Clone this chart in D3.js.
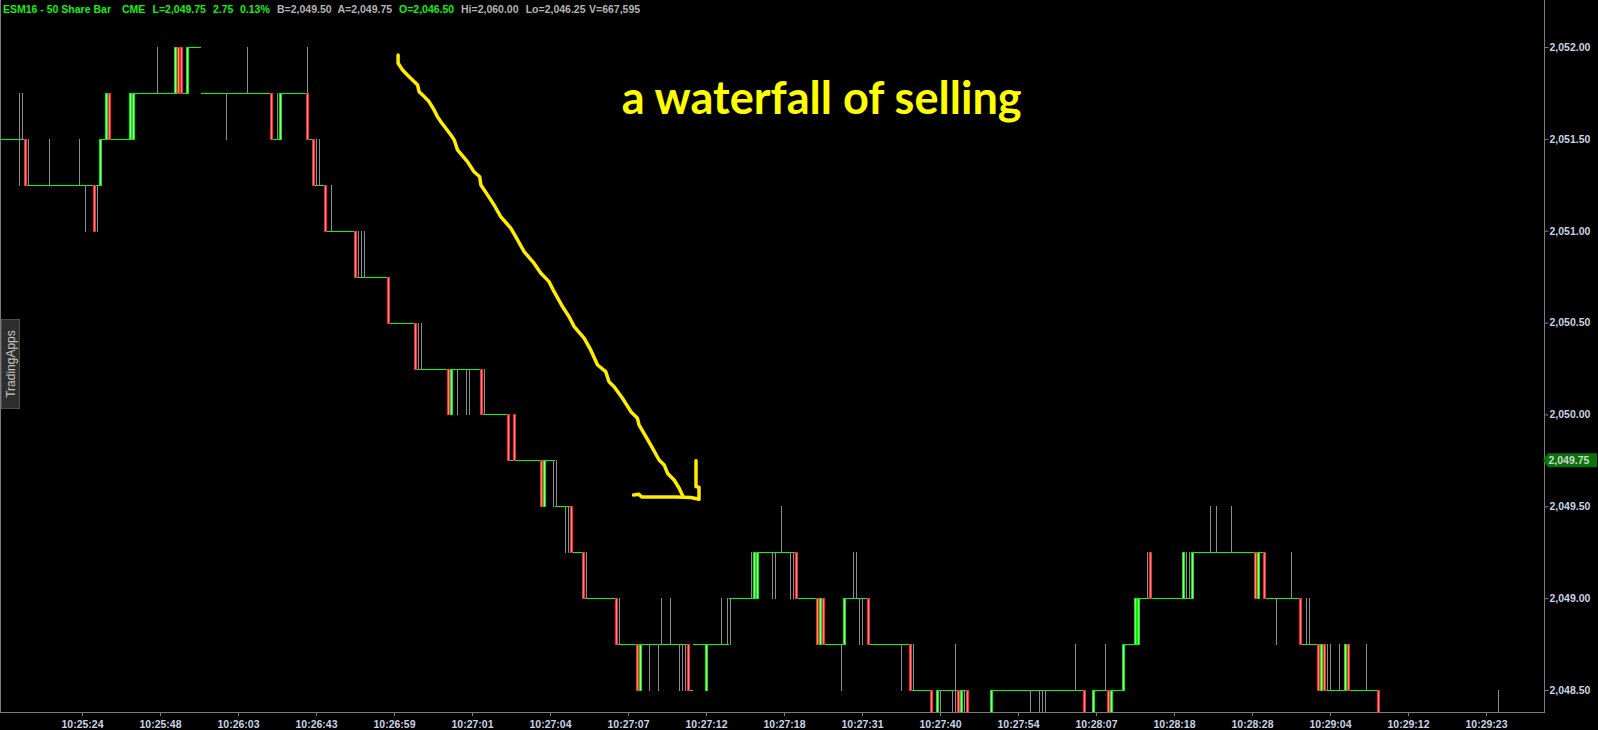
<!DOCTYPE html>
<html>
<head>
<meta charset="utf-8">
<title>ESM16 - 50 Share Bar</title>
<script src="https://d3js.org/d3.v7.min.js"></script>
<style>
  html, body { margin: 0; padding: 0; background: #000; overflow: hidden; }
  svg { display: block; }
</style>
</head>
<body>
<div id="chart"></div>
<script>
/* global d3 */

// 50 share bars, left to right: [open, high, low, close, repeat]
// a two item row [price, repeat] is a run of bars that only traded one price
const bars = [
  [2051.5, 6],
  [2051.5, 2051.75, 2051.25, 2051.5],
  [2051.5, 2051.75, 2051.5, 2051.5],
  [2051.5, 2051.5, 2051.25, 2051.25],
  [2051.25, 2051.5, 2051.25, 2051.25],
  [2051.25, 6],
  [2051.25, 2051.5, 2051.25, 2051.25],
  [2051.25, 9],
  [2051.25, 2051.5, 2051.25, 2051.25],
  [2051.25, 1],
  [2051.25, 2051.25, 2051, 2051.25],
  [2051.25, 2],
  [2051.25, 2051.25, 2051, 2051],
  [2051.25, 2051.25, 2051, 2051.25],
  [2051.25, 2051.5, 2051.25, 2051.5],
  [2051.5, 1],
  [2051.5, 2051.75, 2051.5, 2051.75],
  [2051.75, 2051.75, 2051.5, 2051.5],
  [2051.5, 6],
  [2051.5, 2051.75, 2051.5, 2051.75, 2],
  [2051.75, 7],
  [2051.75, 2052, 2051.75, 2051.75],
  [2051.75, 5],
  [2051.75, 2052, 2051.75, 2052],
  [2052, 2052, 2051.75, 2051.75, 2],
  [2051.75, 1],
  [2051.75, 2052, 2051.75, 2052],
  [2052, 4],
  [2051.75, 8],
  [2051.75, 2051.75, 2051.5, 2051.75],
  [2051.75, 6],
  [2051.75, 2052, 2051.75, 2051.75],
  [2051.75, 7],
  [2051.75, 2051.75, 2051.5, 2051.5],
  [2051.5, 1],
  [2051.5, 2051.75, 2051.5, 2051.5],
  [2051.5, 2051.75, 2051.5, 2051.75],
  [2051.75, 8],
  [2051.75, 2052, 2051.5, 2051.5],
  [2051.5, 1],
  [2051.5, 2051.5, 2051.25, 2051.25],
  [2051.25, 2051.5, 2051.25, 2051.25, 2],
  [2051.25, 1],
  [2051.25, 2051.25, 2051, 2051],
  [2051, 1],
  [2051, 2051.25, 2051, 2051],
  [2051, 7],
  [2051, 2051, 2050.75, 2050.75],
  [2050.75, 2051, 2050.75, 2050.75, 3],
  [2050.75, 7],
  [2050.75, 2050.75, 2050.5, 2050.5],
  [2050.5, 8],
  [2050.5, 2050.5, 2050.25, 2050.25],
  [2050.25, 2050.5, 2050.25, 2050.25, 2],
  [2050.25, 8],
  [2050.25, 2050.25, 2050, 2050],
  [2050, 2050.25, 2050, 2050.25],
  [2050.25, 1],
  [2050.25, 2050.25, 2050, 2050.25],
  [2050.25, 2],
  [2050.25, 2050.25, 2050, 2050.25, 2],
  [2050.25, 3],
  [2050.25, 2050.25, 2050, 2050],
  [2050, 2050.25, 2050, 2050],
  [2050, 7],
  [2050, 2050, 2049.75, 2049.75],
  [2049.75, 1],
  [2050, 2050, 2049.75, 2049.75],
  [2049.75, 8],
  [2049.75, 2049.75, 2049.5, 2049.5],
  [2049.5, 2049.75, 2049.5, 2049.75],
  [2049.75, 2],
  [2049.75, 2049.75, 2049.5, 2049.75],
  [2049.5, 2049.75, 2049.5, 2049.5],
  [2049.5, 2],
  [2049.5, 2049.5, 2049.25, 2049.5, 2],
  [2049.5, 2049.5, 2049.25, 2049.25],
  [2049.25, 3],
  [2049.25, 2049.25, 2049, 2049],
  [2049, 2049.25, 2049, 2049],
  [2049, 9],
  [2049, 2049, 2048.75, 2048.75],
  [2048.75, 2049, 2048.75, 2048.75],
  [2048.75, 5],
  [2048.75, 2048.75, 2048.5, 2048.5],
  [2048.5, 2048.75, 2048.5, 2048.75],
  [2048.75, 2],
  [2048.75, 2048.75, 2048.5, 2048.75],
  [2048.75, 2],
  [2048.75, 2048.75, 2048.5, 2048.75],
  [2048.75, 2049, 2048.75, 2048.75],
  [2048.75, 2],
  [2048.75, 2049, 2048.75, 2048.75],
  [2048.75, 2],
  [2048.75, 2048.75, 2048.5, 2048.75, 3],
  [2048.75, 2048.75, 2048.5, 2048.5],
  [2048.5, 1],
  [2048.75, 4],
  [2048.5, 2048.75, 2048.5, 2048.75],
  [2048.75, 4],
  [2048.75, 2049, 2048.75, 2048.75],
  [2048.75, 1],
  [2048.75, 2049, 2048.75, 2048.75],
  [2049, 2049, 2048.75, 2049],
  [2049, 6],
  [2049, 2049.25, 2049, 2049],
  [2049, 2049.25, 2049, 2049.25, 2],
  [2049.25, 4],
  [2049.25, 2049.25, 2049, 2049.25, 2],
  [2049.25, 1],
  [2049.25, 2049.5, 2049.25, 2049.25],
  [2049.25, 2],
  [2049.25, 2049.25, 2049, 2049.25, 2],
  [2049.25, 2049.25, 2049, 2049],
  [2049, 6],
  [2049, 2049, 2048.75, 2048.75],
  [2048.75, 2049, 2048.75, 2049],
  [2049, 2049, 2048.75, 2048.75],
  [2048.75, 5],
  [2048.75, 2048.75, 2048.5, 2048.75],
  [2048.75, 2049, 2048.75, 2049],
  [2049, 2],
  [2049, 2049.25, 2049, 2049, 2],
  [2049, 2049, 2048.75, 2049, 2],
  [2049, 1],
  [2049, 2049, 2048.75, 2048.75],
  [2048.75, 10],
  [2048.75, 2048.75, 2048.5, 2048.75],
  [2048.75, 2],
  [2048.75, 2048.75, 2048.5, 2048.5],
  [2048.5, 2048.75, 2048.5, 2048.5],
  [2048.5, 5],
  [2048.5, 2048.5, 2048.25, 2048.25],
  [2048.25, 1],
  [2048.25, 2048.5, 2048.25, 2048.5],
  [2048.5, 2048.5, 2048.25, 2048.5],
  [2048.5, 3],
  [2048.5, 2048.5, 2048.25, 2048.5],
  [2048.5, 2048.75, 2048.25, 2048.5],
  [2048.5, 2048.5, 2048.25, 2048.25],
  [2048.25, 2048.5, 2048.25, 2048.5],
  [2048.5, 2048.5, 2048.25, 2048.5],
  [2048.5, 2048.5, 2048.25, 2048.25],
  [2048.25, 7],
  [2048.25, 2048.5, 2048.25, 2048.5],
  [2048.5, 12],
  [2048.5, 2048.5, 2048.25, 2048.5],
  [2048.5, 2],
  [2048.5, 2048.5, 2048.25, 2048.5, 3],
  [2048.5, 9],
  [2048.5, 2048.75, 2048.5, 2048.5],
  [2048.5, 2],
  [2048.5, 2048.5, 2048.25, 2048.25],
  [2048.25, 2],
  [2048.25, 2048.5, 2048.25, 2048.5],
  [2048.5, 3],
  [2048.5, 2048.75, 2048.5, 2048.5],
  [2048.5, 2048.5, 2048.25, 2048.25],
  [2048.25, 2048.5, 2048.25, 2048.5],
  [2048.5, 3],
  [2048.5, 2048.75, 2048.5, 2048.75],
  [2048.75, 3],
  [2048.75, 2049, 2048.75, 2049, 2],
  [2049, 2],
  [2049, 2049.25, 2049, 2049],
  [2049.25, 2049.25, 2049, 2049],
  [2049, 10],
  [2049, 2049.25, 2049, 2049.25],
  [2049, 2049.25, 2049, 2049, 2],
  [2049, 2049.25, 2049, 2049.25],
  [2049.25, 5],
  [2049.25, 2049.5, 2049.25, 2049.25],
  [2049.25, 1],
  [2049.25, 2049.5, 2049.25, 2049.25],
  [2049.25, 4],
  [2049.25, 2049.5, 2049.25, 2049.25],
  [2049.25, 7],
  [2049.25, 2049.25, 2049, 2049],
  [2049, 2049.25, 2049, 2049.25],
  [2049.25, 1],
  [2049.25, 2049.25, 2049, 2049],
  [2049, 3],
  [2049, 2049, 2048.75, 2049],
  [2049, 4],
  [2049, 2049.25, 2049, 2049],
  [2049, 2],
  [2049, 2049, 2048.75, 2048.75],
  [2048.75, 1],
  [2048.75, 2049, 2048.75, 2048.75, 2],
  [2048.75, 2],
  [2048.75, 2048.75, 2048.5, 2048.5],
  [2048.5, 2048.75, 2048.5, 2048.75],
  [2048.75, 2048.75, 2048.5, 2048.5],
  [2048.5, 2048.75, 2048.5, 2048.5, 2],
  [2048.5, 2],
  [2048.5, 2048.75, 2048.5, 2048.5],
  [2048.5, 1],
  [2048.5, 2048.75, 2048.5, 2048.75],
  [2048.75, 2048.75, 2048.5, 2048.5],
  [2048.5, 5],
  [2048.5, 2048.75, 2048.5, 2048.5],
  [2048.5, 3],
  [2048.5, 2048.5, 2048.25, 2048.25],
  [2048.25, 39],
  [2048.25, 2048.5, 2048.25, 2048.25]
]

const priceTicks = [2048.5, 2049, 2049.5, 2050, 2050.5, 2051, 2051.5, 2052]
const timeTickBars = [27, 53, 79, 105, 131, 157, 183, 209, 235, 261, 287, 313, 339, 365, 391, 417, 443, 469, 495]
const timeLabels = ['10:25:24', '10:25:48', '10:26:03', '10:26:43', '10:26:59', '10:27:01', '10:27:04',
  '10:27:07', '10:27:12', '10:27:18', '10:27:31', '10:27:40', '10:27:54', '10:28:07', '10:28:18',
  '10:28:28', '10:29:04', '10:29:12', '10:29:23']
const lastPrice = 2049.75

// quote line on top: [text, kind]  (kind 'q' = quote colour, 'i' = info colour)
const header = [
  ['ESM16 - 50 Share Bar', 'q'], ['CME', 'q'], ['L=2,049.75', 'q'], ['2.75', 'q'], ['0.13%', 'q'],
  ['B=2,049.50', 'i'], ['A=2,049.75', 'i'], ['O=2,046.50', 'q'], ['Hi=2,060.00', 'i'],
  ['Lo=2,046.25', 'i'], ['V=667,595', 'i']
]

// hand drawn arrow, in [bar, price]
const arrowStroke = [
  [132.2, 2051.957], [132.2, 2051.911], [133.7, 2051.875], [135.3, 2051.848], [137.0, 2051.821],
  [138.7, 2051.793], [139.2, 2051.757], [140.9, 2051.730], [142.5, 2051.703], [144.2, 2051.657],
  [145.3, 2051.621], [146.4, 2051.594], [148.1, 2051.558], [149.8, 2051.521], [150.9, 2051.494],
  [152.0, 2051.440], [155.3, 2051.376], [157.5, 2051.321], [159.4, 2051.294], [159.8, 2051.249],
  [162.0, 2051.195], [164.2, 2051.140], [166.4, 2051.077], [169.8, 2051.013], [171.4, 2050.968],
  [174.2, 2050.886], [177.5, 2050.823], [179.8, 2050.768], [182.5, 2050.723], [184.2, 2050.668],
  [187.0, 2050.587], [189.2, 2050.532], [190.9, 2050.478], [194.2, 2050.415], [196.4, 2050.351],
  [198.7, 2050.269], [201.4, 2050.233], [202.5, 2050.178], [204.2, 2050.151], [207.0, 2050.088],
  [209.8, 2050.015], [212.0, 2049.979], [212.5, 2049.943], [214.8, 2049.879], [217.0, 2049.816],
  [219.2, 2049.752], [220.9, 2049.725], [222.0, 2049.680], [224.2, 2049.643], [225.9, 2049.598],
  [227.1, 2049.556]
]
const arrowHook = [
  [210.7, 2049.562], [212.4, 2049.566], [213.4, 2049.551], [225.0, 2049.551], [229.8, 2049.548],
  [232.5, 2049.538], [232.5, 2049.604], [231.5, 2049.607], [231.5, 2049.748]
]
const note = 'a waterfall of selling'

const width = 1598
const height = 730
const plot = {right: 1544, bottom: 712}
const font = "'Liberation Sans', Arial, sans-serif"
const headerX = [3, 122, 152.5, 213, 240, 277, 337.5, 399, 461, 525.7, 589]
const col = {
  flat: '#00ff00',
  wick: '#8c8c8c',
  upEdge: '#00f000', upFill: '#aaffaa',
  downEdge: '#ff2424', downFill: '#ff8c8c',
  axis: '#7c7c7c',
  label: '#c9d3e6',
  quote: '#14f014',
  info: '#b4b4b4',
  note: '#ffff00',
  arrow: '#ffec00'
}

const data = expandBars(bars)
const slots = 515

const x = d3.scaleBand().domain(d3.range(slots)).range([0, slots * 3])
const xi = d3.scaleLinear().domain([0, slots]).range([0, slots * 3])
const y = d3.scaleLinear().domain([2048.5, 2052]).range([690, 47])
const py = p => Math.round(y(p)) + 0.5

const svg = d3.select('#chart')
  .append('svg')
  .attr('width', width)
  .attr('height', height)
  .style('background', '#000')

svg.append('defs').append('clipPath').attr('id', 'plot-clip')
  .append('rect')
  .attr('x', 0).attr('y', 0)
  .attr('width', plot.right).attr('height', plot.bottom)

const g = svg.append('g').attr('clip-path', 'url(#plot-clip)')

// close level of every bar, a step line
g.append('g').selectAll('line')
  .data(data)
  .join('line')
  .attr('x1', d => x(d.i))
  .attr('x2', d => x(d.i) + x.bandwidth())
  .attr('y1', d => py(d.c))
  .attr('y2', d => py(d.c))
  .attr('stroke', col.flat)
  .attr('stroke-width', 1)

// high-low range
g.append('g').selectAll('line')
  .data(data.filter(d => d.h > d.l))
  .join('line')
  .attr('x1', d => x(d.i) + 1.5)
  .attr('x2', d => x(d.i) + 1.5)
  .attr('y1', d => Math.round(y(d.h)))
  .attr('y2', d => Math.round(y(d.l)) + 1)
  .attr('stroke', col.wick)
  .attr('stroke-width', 1)

// bodies
g.append('g').selectAll('rect')
  .data(data.filter(d => d.o !== d.c))
  .join('rect')
  .attr('x', d => x(d.i) + 0.5)
  .attr('width', x.bandwidth() - 1)
  .attr('y', d => py(Math.max(d.o, d.c)))
  .attr('height', d => py(Math.min(d.o, d.c)) - py(Math.max(d.o, d.c)))
  .attr('fill', d => d.c > d.o ? col.upFill : col.downFill)
  .attr('stroke', d => d.c > d.o ? col.upEdge : col.downEdge)
  .attr('stroke-width', 1)

// frame
svg.append('line')
  .attr('x1', 0.5).attr('x2', 0.5).attr('y1', 0).attr('y2', plot.bottom)
  .attr('stroke', col.axis)
svg.append('line')
  .attr('x1', plot.right + 0.5).attr('x2', plot.right + 0.5).attr('y1', 0).attr('y2', plot.bottom + 1)
  .attr('stroke', col.axis)
svg.append('line')
  .attr('x1', 0).attr('x2', plot.right + 1).attr('y1', plot.bottom + 0.5).attr('y2', plot.bottom + 0.5)
  .attr('stroke', col.axis)

// price axis
svg.append('g')
  .attr('transform', `translate(${plot.right + 0.5},0)`)
  .call(d3.axisRight(y).tickValues(priceTicks).tickFormat(d3.format(',.2f')).tickSize(4).tickPadding(1))
  .call(a => a.select('.domain').remove())
  .call(a => a.selectAll('line').attr('stroke', col.axis))
  .call(a => a.selectAll('text')
    .attr('fill', col.label)
    .attr('font-family', font)
    .attr('font-size', 10.5)
    .attr('font-weight', 'bold'))

// time axis
svg.append('g')
  .attr('transform', `translate(0,${plot.bottom})`)
  .call(d3.axisBottom(x).tickValues(timeTickBars).tickFormat((d, k) => timeLabels[k]).tickSize(4).tickPadding(4.5))
  .call(a => a.select('.domain').remove())
  .call(a => a.selectAll('line').attr('stroke', col.axis))
  .call(a => a.selectAll('text')
    .attr('fill', col.label)
    .attr('font-family', font)
    .attr('font-size', 10.5)
    .attr('font-weight', 'bold'))

// last price flag
const ly = y(lastPrice)
svg.append('path')
  .attr('d', `M${plot.right - 1},${ly} L${plot.right + 4},${ly - 7} L${width - 1},${ly - 7} L${width - 1},${ly + 7} L${plot.right + 4},${ly + 7} Z`)
  .attr('fill', '#0a720a')
svg.append('text')
  .attr('x', plot.right + 4.5)
  .attr('y', ly)
  .attr('dy', '0.35em')
  .attr('fill', '#cfd6cf')
  .attr('font-family', font)
  .attr('font-size', 10.5)
  .attr('font-weight', 'bold')
  .text(d3.format(',.2f')(lastPrice))

// quote line
svg.append('g').selectAll('text')
  .data(header)
  .join('text')
  .attr('x', (d, k) => headerX[k])
  .attr('y', 12.5)
  .attr('fill', d => d[1] === 'q' ? col.quote : col.info)
  .attr('font-family', font)
  .attr('font-size', 10.5)
  .attr('font-weight', 'bold')
  .text(d => d[0])

// side tab
svg.append('rect')
  .attr('x', 1.5).attr('y', 319.5).attr('width', 18).attr('height', 89)
  .attr('fill', '#2e2e2e').attr('stroke', '#4c4c4c')
svg.append('text')
  .attr('transform', 'translate(11,364) rotate(-90)')
  .attr('text-anchor', 'middle')
  .attr('dy', '0.35em')
  .attr('fill', '#c4c4c4')
  .attr('font-family', font)
  .attr('font-size', 12)
  .text('TradingApps')

// annotation
const pen = d3.line().x(d => xi(d[0] + 0.5)).y(d => y(d[1]))
svg.selectAll('path.arrow')
  .data([arrowStroke, arrowHook])
  .join('path')
  .attr('class', 'arrow')
  .attr('d', pen)
  .attr('fill', 'none')
  .attr('stroke', col.arrow)
  .attr('stroke-width', 3.5)
  .attr('stroke-linecap', 'round')
  .attr('stroke-linejoin', 'round')

svg.append('text')
  .attr('x', 621.7)
  .attr('y', 114.3)
  .attr('fill', col.note)
  .attr('font-family', 'Lato, "Open Sans", sans-serif')
  .attr('font-weight', 'bold')
  .attr('font-size', 45)
  .attr('textLength', 400)
  .attr('lengthAdjust', 'spacingAndGlyphs')
  .text(note)

function expandBars (rows) {
  const out = []
  rows.forEach(r => {
    const [o, h, l, c, n] = r.length === 2 ? [r[0], r[0], r[0], r[0], r[1]] : r
    for (let k = 0; k < (n || 1); k++) out.push({i: out.length, o, h, l, c})
  })
  return out
}
</script>
</body>
</html>
